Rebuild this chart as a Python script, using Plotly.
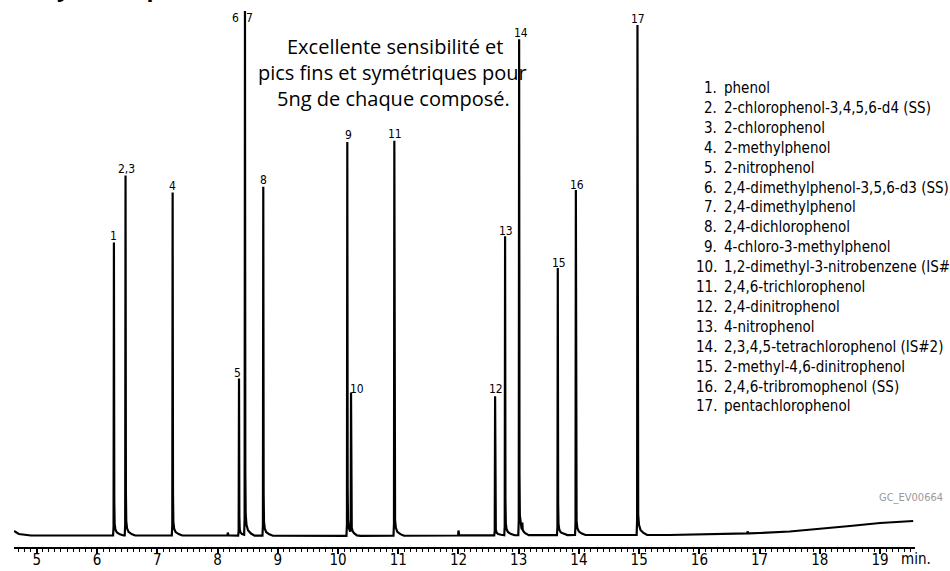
import numpy as np
import plotly.graph_objects as go

# ---------------- data ----------------
peak_rt = [6.279, 6.472, 6.472, 7.254, 8.356, 8.455, 8.455, 8.759, 10.154, 10.216,
           10.935, 12.608, 12.774, 13.007, 13.649, 13.949, 14.972]
peak_height = [293, 180, 180, 343, 157, 262, 262, 349, 394, 140,
               395, 139, 299, 496, 267, 345, 510]

minor_rt = [8.17, 12.0, 13.06, 16.8]
minor_height = [3, 5, 8, 2]

baseline_t = [4.62, 4.70, 4.90, 6.0, 8.0, 10.0, 12.0, 14.0, 15.5, 16.0, 16.5,
              17.0, 17.5, 18.0, 18.5, 19.0, 19.3, 19.55]
baseline_v = [6, 3, 1.5, 1.5, 1.5, 1, 1.5, 2, 2, 2.5, 3, 4, 5.5, 8, 11, 14, 15, 16]

peak_labels = ["1", "2,3", "4", "5", "6", "7", "8", "9", "10", "11", "12", "13",
               "14", "15", "16", "17"]
label_peak_index = [0, 1, 3, 4, 5, 6, 7, 8, 9, 10, 11, 12, 13, 14, 15, 16]

compound_names = [
    "phenol",
    "2-chlorophenol-3,4,5,6-d4 (SS)",
    "2-chlorophenol",
    "2-methylphenol",
    "2-nitrophenol",
    "2,4-dimethylphenol-3,5,6-d3 (SS)",
    "2,4-dimethylphenol",
    "2,4-dichlorophenol",
    "4-chloro-3-methylphenol",
    "1,2-dimethyl-3-nitrobenzene (IS#1)",
    "2,4,6-trichlorophenol",
    "2,4-dinitrophenol",
    "4-nitrophenol",
    "2,3,4,5-tetrachlorophenol (IS#2)",
    "2-methyl-4,6-dinitrophenol",
    "2,4,6-tribromophenol (SS)",
    "pentachlorophenol",
]

x_tick_values = list(range(5, 20))
x_tick_labels = [str(v) for v in x_tick_values]

# ---------------- styling / layout helpers ----------------
# peak shape template (time offset in min, fraction of peak height)
shape_dt = [-0.014, -0.006, 0.0, 0.006, 0.012, 0.025, 0.05, 0.1, 0.16]
shape_frac = [0.0, 0.03, 1.0, 0.12, 0.04, 0.02, 0.01, 0.004, 0.0]

# label offsets in pixels (dx, dy relative to peak top)
label_dx = [0, 1, 0, -2, -9, 5, 0, 1, 6, 1, 1, 1, 2, 1, 1, 1]
label_dy = [-8, -8, -8, -7, 5, 5, -8, -8, -8, -8, -9, -7, -8, -7, -7, -8]

W, H = 950, 571
ML, MR, MT, MB = 14, 35, 0, 24
PW, PH = W - ML - MR, H - MT - MB


def px_x(px):
    return (px - ML) / PW


def px_y(py):
    return 1 - (py - MT) / PH


# ---------------- build chromatogram ----------------
all_rt = peak_rt + minor_rt
all_h = peak_height + minor_height
grid = set(baseline_t)
for rt in all_rt:
    for d in shape_dt:
        grid.add(round(rt + d, 5))
grid = np.array(sorted(t for t in grid if 4.62 <= t <= 19.55))
signal = np.interp(grid, baseline_t, baseline_v)
for rt, h in zip(all_rt, all_h):
    signal = signal + h * np.interp(grid - rt, shape_dt, shape_frac, left=0, right=0)

fig = go.Figure()
fig.add_trace(go.Scatter(x=grid, y=signal, mode="lines",
                         line=dict(color="black", width=2.2),
                         hoverinfo="skip", showlegend=False))

narrow = "DejaVu Sans Condensed, Liberation Sans Narrow, Roboto, sans-serif"
annotations = []

# peak labels
for lab, idx, dx, dy in zip(peak_labels, label_peak_index, label_dx, label_dy):
    top = peak_height[idx]
    if lab == "2,3":
        top = peak_height[1] + peak_height[2]
    if lab in ("6", "7"):
        top = peak_height[5] + peak_height[6]
    annotations.append(dict(x=peak_rt[idx], y=top, xref="x", yref="y", text=lab,
                            showarrow=False, xshift=dx, yshift=-dy,
                            xanchor="center", yanchor="middle",
                            font=dict(family=narrow, size=12, color="black")))

# central comment
for txt, cy, cx in [("Excellente sensibilité et", 47, 395),
                    ("pics fins et symétriques pour", 73, 392),
                    ("5ng de chaque composé.", 99, 393)]:
    annotations.append(dict(x=px_x(cx), y=px_y(cy), xref="paper", yref="paper",
                            text=txt, showarrow=False, xanchor="center", yanchor="middle",
                            font=dict(family="Open Sans, sans-serif", size=20, color="black")))

# compound list
for i, name in enumerate(compound_names):
    cy = 88 + i * 19.9
    annotations.append(dict(x=px_x(719), y=px_y(cy), xref="paper", yref="paper",
                            text=f"{i + 1}.", showarrow=False, xanchor="right", yanchor="middle",
                            font=dict(family=narrow, size=15, color="black")))
    annotations.append(dict(x=px_x(722), y=px_y(cy), xref="paper", yref="paper",
                            text=name, showarrow=False, xanchor="left", yanchor="middle",
                            font=dict(family=narrow, size=15, color="black")))

# reference code
annotations.append(dict(x=px_x(945), y=px_y(497), xref="paper", yref="paper",
                        text="GC_EV00664", showarrow=False, xanchor="right", yanchor="middle",
                        font=dict(family=narrow, size=11, color="#9a9a9a")))

# axis unit
annotations.append(dict(x=px_x(899), y=px_y(559), xref="paper", yref="paper",
                        text="min.", showarrow=False, xanchor="left", yanchor="middle",
                        font=dict(family=narrow, size=15, color="black")))

# title (cut off at the top of the picture)
annotations.append(dict(x=px_x(3), y=px_y(5), xref="paper", yref="paper",
                        text="<b>Analyse des phénols</b>", showarrow=False,
                        xanchor="left", yanchor="bottom",
                        font=dict(family="Open Sans, sans-serif", size=23, color="black")))

fig.update_layout(
    template="none",
    width=W, height=H,
    margin=dict(l=ML, r=MR, t=MT, b=MB, pad=0, autoexpand=False),
    paper_bgcolor="white", plot_bgcolor="white",
    showlegend=False,
    annotations=annotations,
    xaxis=dict(range=[4.62, 19.58], tickvals=x_tick_values, ticktext=x_tick_labels,
               automargin=False,
               ticks="outside", ticklen=5, tickwidth=1.5, tickcolor="black",
               ticklabelstandoff=-7,
               showline=True, linecolor="black", linewidth=1.5,
               showgrid=False, zeroline=False,
               tickfont=dict(family=narrow, size=15, color="black"),
               minor=dict(dtick=0.1, tick0=0, ticks="outside", ticklen=3,
                          tickwidth=1, tickcolor="black", showgrid=False)),
    yaxis=dict(range=[-10, 537], visible=False, showgrid=False, zeroline=False,
               automargin=False),
)

fig.write_html("out.html")
